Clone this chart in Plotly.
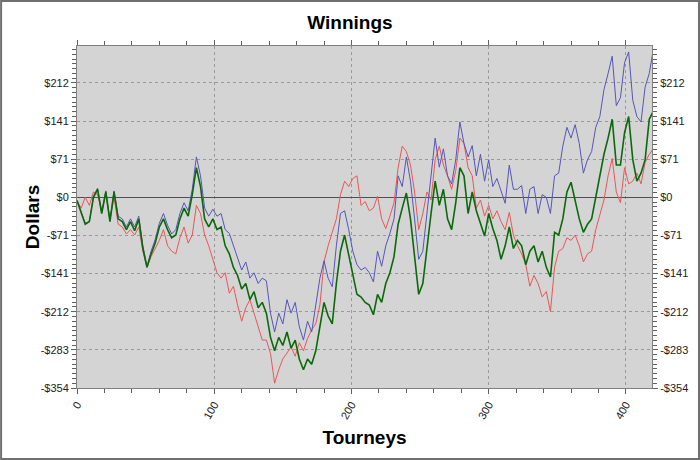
"""
Winnings chart: three cumulative winnings lines over tourneys.
"""
import plotly.graph_objects as go

# tourney index for every sample (every 3 tourneys)
tourneys = list(range(0, 421, 3))

green_vals = [
    -6, -30, -50, -45, 0, 15, -30, 10, -45, 10, -40, -45, -60, -45, -62, -40,
    -95, -130, -105, -85, -55, -40, -60, -75, -70, -40, -20, -35, 5, 55, 20,
    -40, -55, -40, -60, -55, -90, -105, -130, -145, -170, -160, -190, -175,
    -205, -195, -215, -260, -285, -260, -275, -250, -280, -265, -300, -320,
    -300, -310, -285, -240, -195, -220, -235, -160, -100, -70, -105, -140,
    -180, -185, -195, -200, -218, -180, -195, -160, -140, -110, -50, -20, 8,
    -40, -110, -180, -160, -90, -30, 30, -15, 15, -40, -60, -10, 55, 40, -30,
    10, -25, -50, -72, -30, -58, -80, -115, -90, -55, -95, -80, -90, -125,
    -100, -90, -120, -100, -130, -148, -65, -70, -40, 10, 28, -5, -40, -65,
    -50, -40, 0, 45, 80, 110, 145, 60, 60, 120, 150, 70, 30, 45, 70, 145, 160,
]

blue_vals = [
    -6, -28, -48, -45, 2, 17, -28, 12, -43, 12, -35, -40, -55, -40, -55, -35,
    -90, -128, -100, -78, -48, -30, -52, -68, -60, -30, -10, -25, 15, 75, 40,
    -20, -35, -22, -35, -30, -60, -67, -90, -110, -135, -120, -150, -140,
    -160, -150, -155, -215, -250, -215, -235, -190, -215, -195, -240, -265,
    -230, -250, -195, -150, -118, -150, -166, -90, -30, -25, -60, -100, -125,
    -135, -130, -140, -157, -100, -128, -90, -67, -40, 40, 20, 75, 30, -40,
    -115, -100, -30, 40, 110, 56, 90, 40, 25, 70, 140, 100, 75, 96, 40, 80,
    30, 70, 20, 35, 10, -11, 60, 15, 15, 22, -30, 15, 20, -30, 5, 0, -30, 40,
    45, 95, 130, 110, 135, 100, 45, 70, 85, 130, 150, 200, 230, 262, 170, 185,
    250, 270, 180, 150, 140, 205, 230, 275,
]

red_vals = [
    -6, -20, 0, -15, 10, 5, -25, 5, -40, 0, -50, -55, -68, -60, -70, -55,
    -100, -130, -110, -95, -80, -60, -90, -100, -105, -75, -55, -85, -70, -15,
    -30, -70, -90, -115, -140, -150, -140, -178, -165, -200, -230, -205, -190,
    -215, -240, -265, -265, -290, -345, -320, -300, -290, -278, -295, -270,
    -285, -262, -246, -235, -200, -120, -90, -65, -40, 5, 30, 20, 35, 40, -15,
    -8, -25, -20, 2, -40, -58, -35, -10, 55, 95, 85, 60, 10, -60, -30, 10, -5,
    70, 95, 60, 40, 15, 50, 110, 100, 55, 40, -20, -5, -35, -15, -40, -25,
    -45, -60, -28, -70, -90, -105, -125, -165, -145, -160, -185, -175, -212,
    -130, -100, -95, -75, -80, -70, -90, -120, -105, -100, -60, -30, -5, 40,
    72, 10, -10, 55, 25, 30, 45, 25, 65, 80, 90,
]

y_tick_vals = [-354, -283.2, -212.4, -141.6, -70.8, 0, 70.8, 141.6, 212.4]
y_tick_text = ["-$354", "-$283", "-$212", "-$141", "-$71", "$0", "$71", "$141", "$212"]
x_tick_vals = [0, 100, 200, 300, 400]

FONT = "Liberation Sans, Arial, sans-serif"
Y_RANGE = [-354, 281]

fig = go.Figure()
fig.add_trace(go.Scatter(x=tourneys, y=red_vals, mode="lines",
                         line=dict(color="#ee5555", width=1), showlegend=False))
fig.add_trace(go.Scatter(x=tourneys, y=blue_vals, mode="lines",
                         line=dict(color="#5555bb", width=1), showlegend=False))
fig.add_trace(go.Scatter(x=tourneys, y=green_vals, mode="lines",
                         line=dict(color="#0a6a0a", width=1.6), showlegend=False))

axis_common = dict(
    showline=True, linecolor="#808080", linewidth=1, automargin=False,
    ticks="outside", ticklen=5, tickcolor="#606060",
    gridcolor="#999999", griddash="dot", gridwidth=1,
    tickfont=dict(family=FONT, size=11, color="#222222"),
)

fig.update_layout(
    width=700, height=460,
    paper_bgcolor="white", plot_bgcolor="#d4d4d4",
    margin=dict(l=77, r=48, t=46, b=72, autoexpand=False),
    title=dict(text="<b>Winnings</b>", x=0.5, xanchor="center", y=0.952, yanchor="middle",
               font=dict(family=FONT, size=19, color="black")),
    xaxis=dict(
        range=[0, 419], tickvals=x_tick_vals, tickangle=-60,
        mirror="ticks", zeroline=False,
        minor=dict(dtick=20, ticklen=4, ticks="outside", tickcolor="#606060", showgrid=False),
        title=dict(text="<b>Tourneys</b>", standoff=10,
                   font=dict(family=FONT, size=19, color="black")),
        **axis_common,
    ),
    yaxis=dict(
        range=Y_RANGE, tickvals=y_tick_vals, ticktext=y_tick_text,
        zeroline=True, zerolinecolor="#505050", zerolinewidth=1,
        minor=dict(dtick=8.85, tick0=0, ticklen=4, ticks="outside", tickcolor="#606060",
                   showgrid=False),
        **axis_common,
    ),
    yaxis2=dict(
        overlaying="y", side="right", range=Y_RANGE,
        tickvals=y_tick_vals, ticktext=y_tick_text, showgrid=False, zeroline=False,
        minor=dict(dtick=8.85, tick0=0, ticklen=4, ticks="outside", tickcolor="#606060"),
        **{k: v for k, v in axis_common.items() if not k.startswith("grid")},
    ),
    annotations=[dict(text="<b>Dollars</b>", textangle=-90, showarrow=False,
                      xref="paper", yref="paper", x=-0.078, y=0.5,
                      xanchor="center", yanchor="middle",
                      font=dict(family=FONT, size=19, color="black"))],
    shapes=[dict(type="rect", xref="paper", yref="paper",
                 x0=-0.132, x1=1.0817, y0=-0.2076, y1=1.1316,
                 line=dict(color="#707070", width=2), layer="below")],
)
# invisible trace to show the right-hand axis
fig.add_trace(go.Scatter(x=[None], y=[None], yaxis="y2", showlegend=False))

fig.write_html("out.html", config={"displayModeBar": False},
               post_script="document.body.style.margin='0';")
